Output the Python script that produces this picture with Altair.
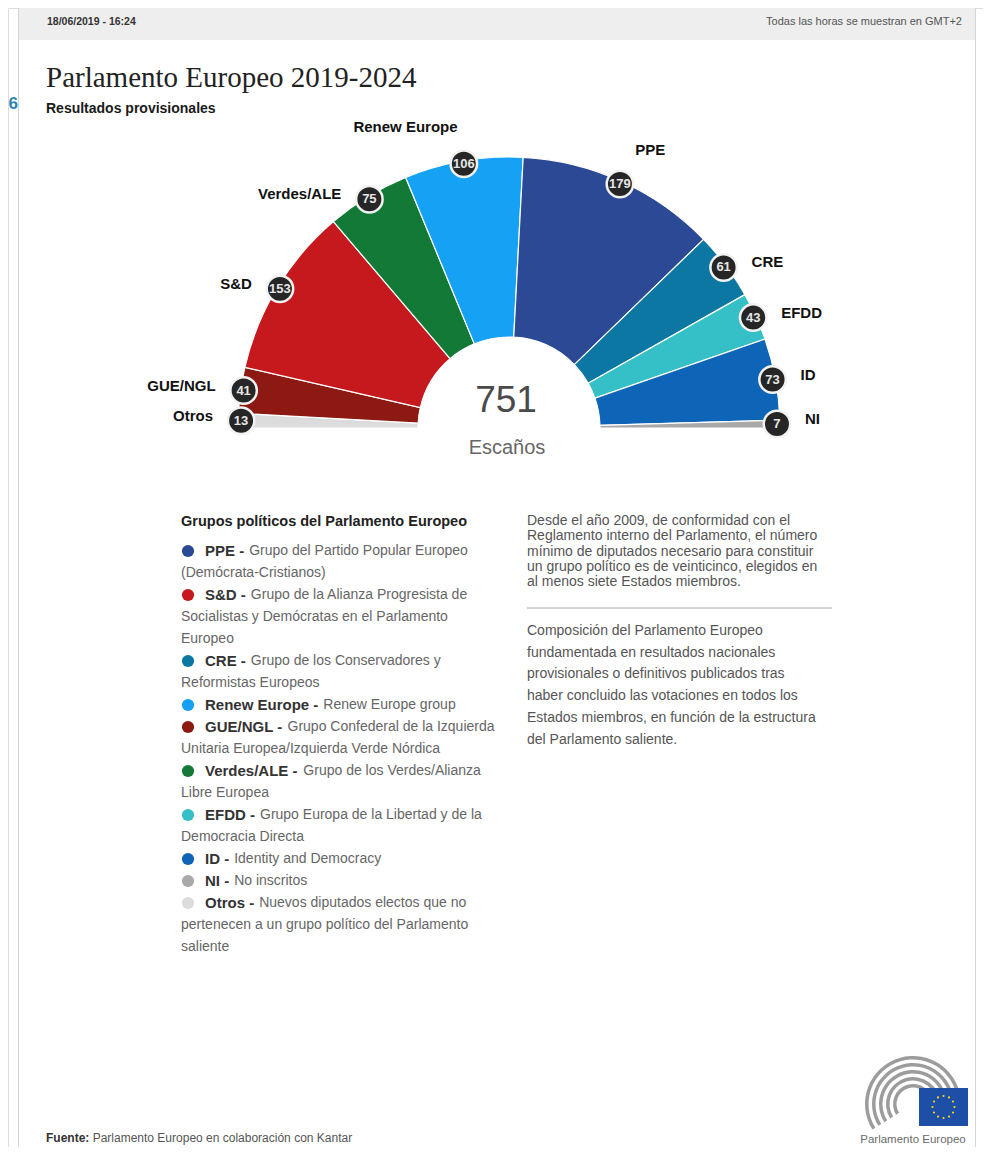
import math
import altair as alt
import pandas as pd

M = 8                      # page margin
W, H = 975, 1139
FONT = "Liberation Sans"

# ---------------- data ----------------
parties = ["Otros", "GUE/NGL", "S&D", "Verdes/ALE", "Renew Europe", "PPE", "CRE", "EFDD", "ID", "NI"]
seats = [13, 41, 153, 75, 106, 179, 61, 43, 73, 7]
party_colors = ["#dcdcdc", "#8c1a12", "#c6191e", "#127a36", "#16a2f4", "#2b4994", "#0b77a2", "#34c0c6", "#0e64b7", "#a9a9a9"]

legend_keys = ["PPE", "S&D", "CRE", "Renew Europe", "GUE/NGL", "Verdes/ALE", "EFDD", "ID", "NI", "Otros"]
legend_desc = [
    ["Grupo del Partido Popular Europeo", "(Demócrata-Cristianos)"],
    ["Grupo de la Alianza Progresista de", "Socialistas y Demócratas en el Parlamento", "Europeo"],
    ["Grupo de los Conservadores y", "Reformistas Europeos"],
    ["Renew Europe group"],
    ["Grupo Confederal de la Izquierda", "Unitaria Europea/Izquierda Verde Nórdica"],
    ["Grupo de los Verdes/Alianza", "Libre Europea"],
    ["Grupo Europa de la Libertad y de la", "Democracia Directa"],
    ["Identity and Democracy"],
    ["No inscritos"],
    ["Nuevos diputados electos que no", "pertenecen a un grupo político del Parlamento", "saliente"],
]
note_1 = ["Desde el año 2009, de conformidad con el",
          "Reglamento interno del Parlamento, el número",
          "mínimo de diputados necesario para constituir",
          "un grupo político es de veinticinco, elegidos en",
          "al menos siete Estados miembros."]
note_2 = ["Composición del Parlamento Europeo",
          "fundamentada en resultados nacionales",
          "provisionales o definitivos publicados tras",
          "haber concluido las votaciones en todos los",
          "Estados miembros, en función de la estructura",
          "del Parlamento saliente."]

title = "Parlamento Europeo 2019-2024"
subtitle = "Resultados provisionales"
date_txt = "18/06/2019 - 16:24"
tz_txt = "Todas las horas se muestran en GMT+2"
legend_title = "Grupos políticos del Parlamento Europeo"
source_key = "Fuente:"
source_txt = "Parlamento Europeo en colaboración con Kantar"
total_label = "Escaños"

# ---------------- helpers ----------------
BOLD_W = {" ": 278, "-": 333, ":": 333, "/": 278, "&": 722, "A": 722, "C": 722, "D": 722, "E": 667,
          "F": 611, "G": 778, "I": 278, "L": 611, "N": 722, "O": 778, "P": 667, "R": 722, "S": 667,
          "U": 722, "V": 667, "d": 611, "e": 556, "n": 611, "o": 611, "p": 611, "r": 389, "s": 556,
          "t": 333, "u": 611, "w": 778}


def bold_width(s, size):
    return sum(BOLD_W.get(c, 600) for c in s) * size / 1000.0


def P(v):
    return v - M


def px(field):
    return alt.X(field, type="quantitative", scale=None, axis=None)


def py(field):
    return alt.Y(field, type="quantitative", scale=None, axis=None)


def text_layer(df, **props):
    base = dict(font=FONT, baseline="middle", align="left")
    base.update(props)
    return alt.Chart(df).mark_text(**base).encode(x=px("x"), y=py("y"), text="t:N")


def one_text(t, x, y, **props):
    return text_layer(pd.DataFrame({"x": [P(x)], "y": [P(y)], "t": [t]}), **props)


def box(x1, x2, y1, y2, **props):
    return alt.Chart(pd.DataFrame({"a": [0]})).mark_rect(**props).encode(
        x=alt.value(P(x1)), x2=alt.value(P(x2)), y=alt.value(P(y1)), y2=alt.value(P(y2)))


color_scale = alt.Scale(domain=parties, range=party_colors)
total = sum(seats)

# ---------------- frame ----------------
frame = box(18.5, 975.5, 5.5, 1300, fill="white", stroke="#d4d4d4", strokeWidth=1)
header = box(19, 975, 6, 40, fill="#eeeeee")
date_l = one_text(date_txt, 47, 22, fontSize=10.5, fontWeight="bold", color="#333333")
tz_l = one_text(tz_txt, 962, 22, fontSize=11, color="#555555", align="right")
six = one_text("6", 8.5, 104, fontSize=17, fontWeight="bold", color="#2a86ad", align="left")

title_l = one_text(title, 46, 87, font="Liberation Serif", fontSize=29, color="#222222", baseline="alphabetic")
sub_l = one_text(subtitle, 46, 109, fontSize=14, fontWeight="bold", color="#1a1a1a")

# ---------------- hemicycle ----------------
CX, CY = 509, 428
RO, RI = 271, 91
RB, RL = 268, 305

parl = pd.DataFrame({"party": parties, "seats": seats, "order": list(range(len(parties)))})

arcs = alt.Chart(parl).mark_arc(radius=RO, radius2=RI, stroke="#ffffff", strokeWidth=1.2).encode(
    theta=alt.Theta("seats:Q", stack=True,
                    scale=alt.Scale(domain=[0, total], range=[1.5 * math.pi, 2.5 * math.pi], nice=False)),
    color=alt.Color("party:N", scale=color_scale, legend=None),
    order=alt.Order("order:Q", sort="ascending"),
    x=alt.value(P(CX)), y=alt.value(P(CY)),
)

pos = alt.Chart(parl).transform_window(
    cum="sum(seats)", sort=[alt.SortField("order", order="ascending")], frame=[None, 0]
).transform_joinaggregate(
    tot="sum(seats)"
).transform_calculate(
    mid="PI * (datum.cum - datum.seats / 2) / datum.tot"
).transform_calculate(
    deg="datum.mid * 180 / PI",
    bx=f"{P(CX)} - {RB} * cos(datum.mid)",
    by=f"{P(CY)} - {RB} * sin(datum.mid)",
).transform_calculate(
    top="datum.deg > 70 && datum.deg < 120",
).transform_calculate(
    lx=f"datum.top ? {P(CX)} - {RL} * cos(datum.mid) : datum.bx + (datum.deg < 90 ? -28 : 28)",
    ly=f"datum.top ? {P(CY)} - {RL} * sin(datum.mid) : datum.by - 5",
)

badges = pos.mark_point(filled=True, size=700, fill="#262626", stroke="#f2f2f2",
                        strokeWidth=2.5, opacity=1).encode(x=px("bx"), y=py("by"))
badge_txt = pos.mark_text(font=FONT, fontSize=13, fontWeight="bold", color="#e6e6e6",
                          baseline="middle", align="center").encode(
    x=px("bx"), y=py("by"), text="seats:Q")
labels_l = pos.transform_filter("datum.deg < 90").mark_text(
    font=FONT, fontSize=15, fontWeight="bold", color="#111111", baseline="middle", align="right"
).encode(x=px("lx"), y=py("ly"), text="party:N")
labels_r = pos.transform_filter("datum.deg >= 90").mark_text(
    font=FONT, fontSize=15, fontWeight="bold", color="#111111", baseline="middle", align="left"
).encode(x=px("lx"), y=py("ly"), text="party:N")

total_num = alt.Chart(pd.DataFrame({"seats": seats})).transform_aggregate(
    tot="sum(seats)").mark_text(font=FONT, fontSize=37, color="#4a4a4a", baseline="middle",
                                align="center").encode(x=alt.value(P(506)), y=alt.value(P(401)),
                                                       text="tot:Q")
total_lab = one_text(total_label, 507, 448, fontSize=20, color="#666666", align="center")

# ---------------- legend ----------------
LXK, LXD = 205, 181
LY0, LDY = 551, 22
dots, keys, descs = [], [], []
line = 0
for k, lines in zip(legend_keys, legend_desc):
    y = P(LY0 + LDY * line)
    dots.append({"x": P(188), "y": y, "party": k})
    keys.append({"x": P(LXK), "y": y, "t": k + " -"})
    for j, s in enumerate(lines):
        if j == 0:
            x = LXK + bold_width(k + " -", 15) + 5
        else:
            x = LXD
        descs.append({"x": P(x), "y": P(LY0 + LDY * line), "t": s})
        line += 1

legend_t = one_text(legend_title, 181, 522, fontSize=14.5, fontWeight="bold", color="#222222")
legend_dots = alt.Chart(pd.DataFrame(dots)).mark_point(filled=True, size=150, opacity=1).encode(
    x=px("x"), y=py("y"), color=alt.Color("party:N", scale=color_scale, legend=None))
legend_keys_l = text_layer(pd.DataFrame(keys), fontSize=15, fontWeight="bold", color="#333333")
legend_desc_l = text_layer(pd.DataFrame(descs), fontSize=14, color="#666666")

# ---------------- notes ----------------
NX = 527
n1 = pd.DataFrame({"x": [P(NX)] * len(note_1), "y": [P(521 + 15.3 * i) for i in range(len(note_1))], "t": note_1})
n2 = pd.DataFrame({"x": [P(NX)] * len(note_2), "y": [P(631 + 21.7 * i) for i in range(len(note_2))], "t": note_2})
note1_l = text_layer(n1, fontSize=14, color="#555555")
note2_l = text_layer(n2, fontSize=14, color="#555555")
divider = alt.Chart(pd.DataFrame({"a": [0]})).mark_rule(color="#a8a8a8", strokeWidth=1).encode(
    x=alt.value(P(527)), x2=alt.value(P(832)), y=alt.value(P(608)))

# ---------------- footer ----------------
src_k = one_text(source_key, 46, 1138, fontSize=12, fontWeight="bold", color="#333333")
src_t = one_text(source_txt, 46 + bold_width(source_key + " ", 12), 1138, fontSize=12, color="#555555")

# ---------------- logo ----------------
LCX, LCY = 913, 1104
logo_layers = []
for r in [48, 41, 34, 27, 20]:
    logo_layers.append(
        alt.Chart(pd.DataFrame({"a": [0]})).mark_arc(
            radius=r, radius2=r - 3.5, theta=4.15, theta2=7.85, color="#9c9c9c"
        ).encode(x=alt.value(P(LCX)), y=alt.value(P(LCY)))
    )
flag = box(919, 968, 1088, 1126, fill="#1d4fa6")
FX, FY = 943.5, 1107
stars = alt.Chart(alt.sequence(0, 12, as_="i")).transform_calculate(
    sx=f"{P(FX)} + 11 * sin(2 * PI * datum.i / 12)",
    sy=f"{P(FY)} - 11 * cos(2 * PI * datum.i / 12)",
).mark_point(filled=True, size=5, color="#ffd21f", opacity=1).encode(x=px("sx"), y=py("sy"))
logo_txt = one_text("Parlamento Europeo", 913, 1140, fontSize=11.5, color="#6a6a6a", align="center")

chart = alt.layer(
    frame, header, date_l, tz_l, six, title_l, sub_l,
    arcs, badges, badge_txt, labels_l, labels_r, total_num, total_lab,
    legend_t, legend_dots, legend_keys_l, legend_desc_l,
    note1_l, note2_l, divider, src_k, src_t,
    *logo_layers, flag, stars, logo_txt,
).properties(
    width=W, height=H, padding=0, autosize=alt.AutoSizeParams(type="none")
).configure_view(stroke=None).configure(background="white")

chart.save("out.html", embed_options={"renderer": "svg", "actions": False})
